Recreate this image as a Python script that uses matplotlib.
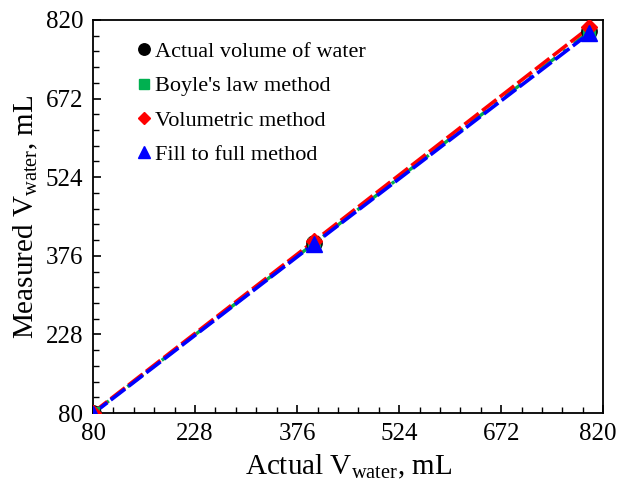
import matplotlib
matplotlib.use("Agg")
import matplotlib.pyplot as plt
import matplotlib.transforms as mtransforms
from matplotlib.ticker import AutoMinorLocator

actual = [80, 400, 800]
actual_measured = [80, 400, 800]
boyle = [80, 399, 798]
volumetric = [81, 403, 806]
fill_full = [79, 398, 795]
ticks = [80, 228, 376, 524, 672, 820]

plt.rcParams["font.family"] = "Liberation Serif"
plt.rcParams["mathtext.fontset"] = "custom"
plt.rcParams["mathtext.rm"] = "Liberation Serif"
plt.rcParams["mathtext.it"] = "Liberation Serif:italic"

fig, ax = plt.subplots(figsize=(6.2, 4.86), dpi=100)
fig.subplots_adjust(left=0.15, right=0.973, top=0.959, bottom=0.15)

# trend lines
ax.plot(actual, boyle, color="#00b050", lw=2.4, ls=(0, (6, 3, 1, 3)), zorder=2)
ax.plot(actual, volumetric, color="red", lw=2.6, ls=(0, (5, 1.2)), zorder=2)
ax.plot(actual, fill_full, color="blue", lw=2.6, ls=(0, (5, 1.2)), zorder=3)

# markers
ax.plot(actual, actual_measured, "o", color="black", ms=11, ls="none",
        label="Actual volume of water", zorder=4)
ax.plot(actual, boyle, "s", color="#00b050", ms=9, ls="none",
        label="Boyle's law method", zorder=4)
ax.plot(actual, volumetric, "D", color="red", ms=8, ls="none",
        label="Volumetric method", zorder=5)
ax.plot(actual, fill_full, "^", color="blue", ms=11, ls="none",
        label="Fill to full method", zorder=6)

ax.set_xlim(80, 820)
ax.set_ylim(80, 820)
ax.set_xticks(ticks)
ax.set_yticks(ticks)
ax.xaxis.set_minor_locator(AutoMinorLocator(5))
ax.yaxis.set_minor_locator(AutoMinorLocator(5))
ax.tick_params(which="major", direction="in", length=6, width=1.2, labelsize=18, pad=7)
ax.tick_params(which="minor", direction="in", length=4, width=1.0)
for s in ax.spines.values():
    s.set_linewidth(1.3)

# nudge the last x tick label so it stays inside the figure
fig.canvas.draw()
last = ax.get_xticklabels()[-1]
last.set_transform(last.get_transform() +
                   mtransforms.ScaledTranslation(-6 / 100, 0, fig.dpi_scale_trans))

ax.set_xlabel(r"Actual V$_{\mathrm{water}}$, mL", fontsize=21, labelpad=6)
ax.set_ylabel(r"Measured V$_{\mathrm{water}}$, mL", fontsize=21, labelpad=4)

ax.legend(loc="upper left", frameon=False, fontsize=16, handletextpad=0.0,
          handlelength=1.0, markerscale=0.75, borderaxespad=0.0, labelspacing=0.62,
          bbox_to_anchor=(0.06, 0.968))

fig.savefig("out.png", dpi=100)
